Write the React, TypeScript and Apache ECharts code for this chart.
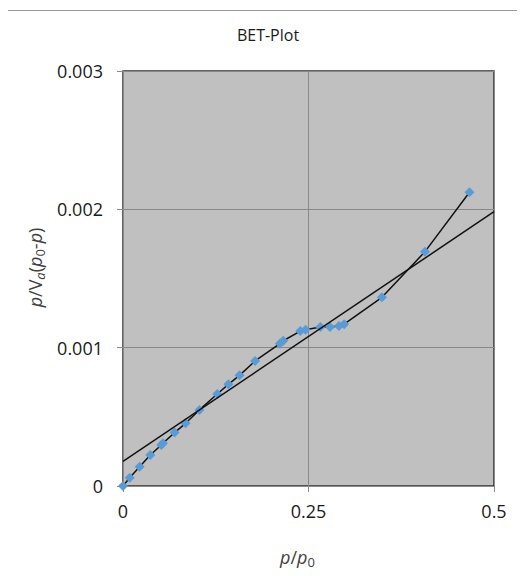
import React, { useEffect, useRef } from "react";
import * as echarts from "echarts";

const pRel = [0, 0.009, 0.0224, 0.0368, 0.0516, 0.0538, 0.0695, 0.0843, 0.103, 0.127, 0.142, 0.157, 0.178, 0.2115, 0.216, 0.239, 0.246, 0.266, 0.279, 0.291, 0.298, 0.349, 0.407, 0.467];
const betY = [0, 0.00006, 0.00014, 0.000224, 0.000296, 0.000309, 0.000386, 0.000453, 0.00055, 0.000665, 0.000735, 0.0008, 0.000904, 0.00103, 0.00105, 0.00112, 0.00113, 0.00115, 0.00115, 0.001157, 0.00117, 0.001364, 0.001694, 0.002123];
const fitX = [0, 0.5];
const fitY = [0.000178, 0.001983];
const xTicks = [0, 0.25, 0.5];
const yTicks = [0, 0.001, 0.002, 0.003];

const FONT = "'Open Sans', 'Noto Sans', sans-serif";

export default function App() {
  const ref = useRef<HTMLDivElement>(null);
  useEffect(() => {
    if (!ref.current) return;
    const chart = echarts.init(ref.current, null, { renderer: "svg" });
    const nameRich = {
      i: { fontStyle: "italic", fontSize: 18, color: "#404040", fontFamily: FONT, lineHeight: 23 },
      n: { fontSize: 18, color: "#404040", fontFamily: FONT, lineHeight: 23 },
      is: { fontStyle: "italic", fontSize: 13, color: "#404040", fontFamily: FONT, verticalAlign: "bottom", lineHeight: 23 },
      s: { fontSize: 13, color: "#404040", fontFamily: FONT, verticalAlign: "bottom", lineHeight: 23 },
    };
    chart.setOption({
      animation: false,
      backgroundColor: "#ffffff",
      title: {
        text: "BET-Plot",
        left: 263,
        textAlign: "center",
        top: 22,
        textStyle: { fontFamily: FONT, fontSize: 16, fontWeight: "normal", color: "#1a1a1a" },
      },
      graphic: [
        {
          type: "rect",
          shape: { x: 5.5, y: 10.5, width: 700, height: 700 },
          style: { fill: "none", stroke: "#999999", lineWidth: 1 },
          silent: true,
          z: -10,
        },
      ],
      grid: {
        left: 123,
        right: 31,
        top: 71,
        bottom: 90,
        show: true,
        backgroundColor: "#c0c0c0",
        borderColor: "#303030",
        borderWidth: 1.5,
      },
      xAxis: {
        type: "value",
        min: xTicks[0],
        max: xTicks[xTicks.length - 1],
        interval: 0.25,
        name: "{i|p}{n|/}{i|p}{s|0}",
        nameLocation: "middle",
        nameGap: 59,
        nameTextStyle: { rich: nameRich, padding: [0, 22, 0, 0] },
        axisLine: { show: true, lineStyle: { color: "#8a8a8a", width: 1 } },
        axisTick: { show: true, length: 6, lineStyle: { color: "#8a8a8a" } },
        axisLabel: { margin: 16, fontFamily: FONT, fontSize: 18, color: "#1a1a1a", formatter: (v: number) => String(v) },
        splitLine: { show: true, lineStyle: { color: "#888888", width: 1 } },
      },
      yAxis: {
        type: "value",
        min: yTicks[0],
        max: yTicks[yTicks.length - 1],
        interval: 0.001,
        name: "{i|p}{n|/V}{is|a}{n|(}{i|p}{s|0}{n|-}{i|p}{n|)}",
        nameLocation: "middle",
        nameGap: 74,
        nameRotate: 90,
        nameTextStyle: { rich: nameRich, padding: [0, 0, 0, 22] },
        axisLine: { show: true, lineStyle: { color: "#8a8a8a", width: 1 } },
        axisTick: { show: true, length: 6, lineStyle: { color: "#8a8a8a" } },
        axisLabel: { margin: 20, fontFamily: FONT, fontSize: 18, color: "#1a1a1a", formatter: (v: number) => String(v) },
        splitLine: { show: true, lineStyle: { color: "#888888", width: 1 } },
      },
      series: [
        {
          type: "line",
          name: "BET",
          data: pRel.map((x, i) => [x, betY[i]]),
          symbol: "diamond",
          symbolSize: 10,
          itemStyle: { color: "#5b9bd5" },
          lineStyle: { color: "#111111", width: 1.5 },
          z: 3,
        },
        {
          type: "line",
          name: "Fit",
          data: fitX.map((x, i) => [x, fitY[i]]),
          symbol: "none",
          lineStyle: { color: "#111111", width: 1.5 },
          z: 4,
        },
      ],
    });
    return () => chart.dispose();
  }, []);
  return <div ref={ref} style={{ width: 525, height: 576, margin: -8 }} />;
}
